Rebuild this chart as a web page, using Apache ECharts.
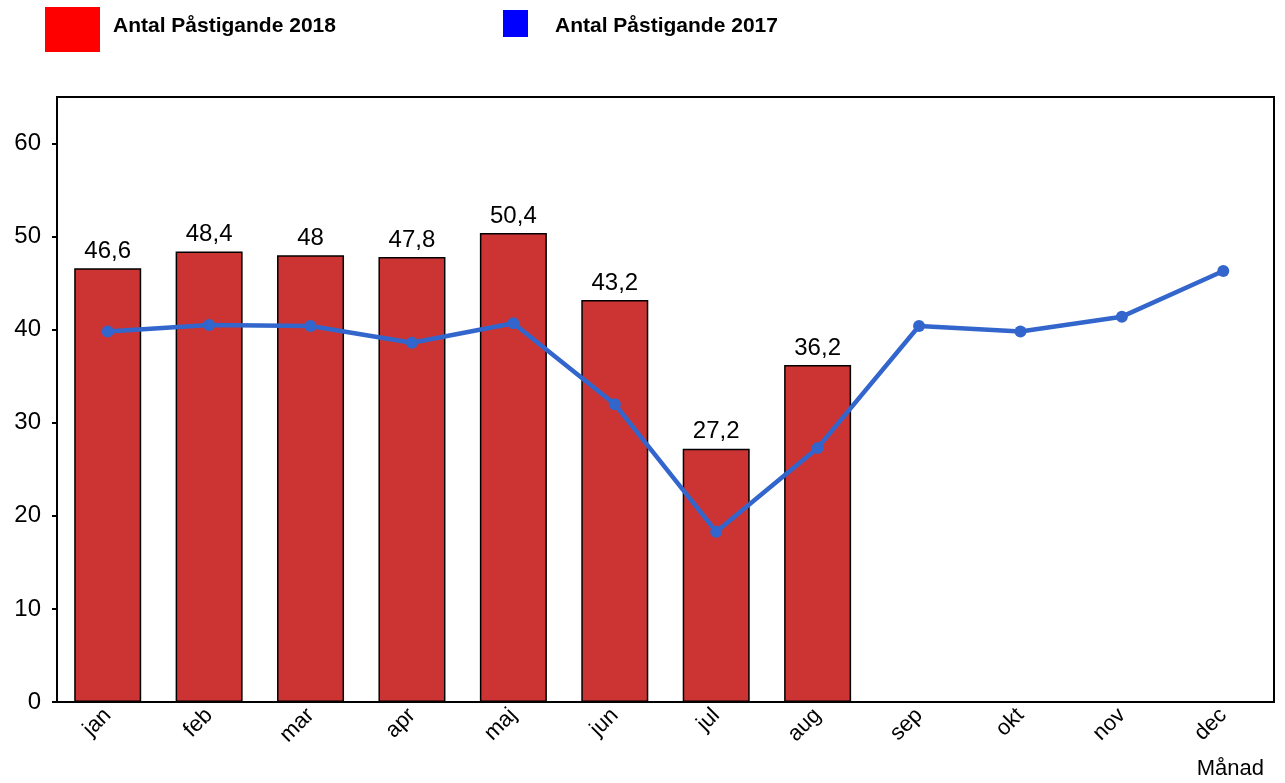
<!DOCTYPE html>
<html>
<head>
<meta charset="utf-8">
<style>
  html, body { margin: 0; padding: 0; background: #fff; }
  #chart { width: 1285px; height: 783px; }
</style>
<script src="https://cdn.jsdelivr.net/npm/echarts@6/dist/echarts.min.js"></script>
</head>
<body>
<div id="chart"></div>
<script>
const months = ['jan', 'feb', 'mar', 'apr', 'maj', 'jun', 'jul', 'aug', 'sep', 'okt', 'nov', 'dec'];
const values2018 = [46.6, 48.4, 48, 47.8, 50.4, 43.2, 27.2, 36.2];
const values2017 = [39.8, 40.5, 40.4, 38.6, 40.7, 32.0, 18.3, 27.3, 40.4, 39.8, 41.4, 46.3];

const chart = echarts.init(document.getElementById('chart'));

const fmt = v => String(v).replace('.', ',');

chart.setOption({
  animation: false,
  textStyle: { fontFamily: 'Liberation Sans, Arial, sans-serif' },
  legend: [
    {
      data: ['Antal Påstigande 2018'],
      left: 45, top: 7, padding: 0,
      icon: 'rect',
      itemWidth: 55, itemHeight: 45,
      itemStyle: { color: '#ff0000', borderWidth: 0 },
      formatter: '{t|{name}}',
      textStyle: {
        rich: { t: { fontSize: 21, fontWeight: 'bold', color: '#000', padding: [0, 0, 6, 8] } }
      },
      selectedMode: false
    },
    {
      data: ['Antal Påstigande 2017'],
      left: 503, top: 10, padding: 0,
      icon: 'rect',
      itemWidth: 25, itemHeight: 27,
      itemStyle: { color: '#0000ff', borderWidth: 0 },
      formatter: '{t|{name}}',
      textStyle: {
        rich: { t: { fontSize: 21, fontWeight: 'bold', color: '#000', padding: [5, 0, 0, 22] } }
      },
      selectedMode: false
    }
  ],
  grid: {
    left: 57, right: 11, top: 97, bottom: 81,
    show: true, borderColor: '#000', borderWidth: 2, backgroundColor: '#fff'
  },
  xAxis: {
    type: 'category',
    data: months,
    axisLine: { lineStyle: { color: '#000', width: 2 } },
    axisTick: { show: false },
    axisLabel: { rotate: 45, fontSize: 22, color: '#000', margin: 10, interval: 0 }
  },
  yAxis: {
    type: 'value',
    min: 0, max: 65, interval: 10,
    axisLine: { show: true, lineStyle: { color: '#000', width: 2 } },
    axisTick: { show: true, length: 5, lineStyle: { color: '#000', width: 2 } },
    axisLabel: { fontSize: 24, color: '#000', margin: 16, showMaxLabel: false },
    splitLine: { show: false }
  },
  graphic: [
    { type: 'text', right: 21, bottom: 3, style: { text: 'Månad', fontSize: 22, fill: '#000', fontFamily: 'Liberation Sans, Arial, sans-serif' } }
  ],
  series: [
    {
      name: 'Antal Påstigande 2018',
      type: 'bar',
      data: values2018,
      barWidth: 67,
      itemStyle: { color: '#cc3333', borderColor: '#000', borderWidth: 1.5 },
      label: {
        show: true, position: 'top', distance: 5,
        fontSize: 24, color: '#000',
        formatter: p => fmt(p.value)
      }
    },
    {
      name: 'Antal Påstigande 2017',
      type: 'line',
      data: values2017,
      symbol: 'circle',
      symbolSize: 12,
      itemStyle: { color: '#3366cc' },
      lineStyle: { color: '#3366cc', width: 4.5 },
      z: 5
    }
  ]
});
</script>
</body>
</html>
